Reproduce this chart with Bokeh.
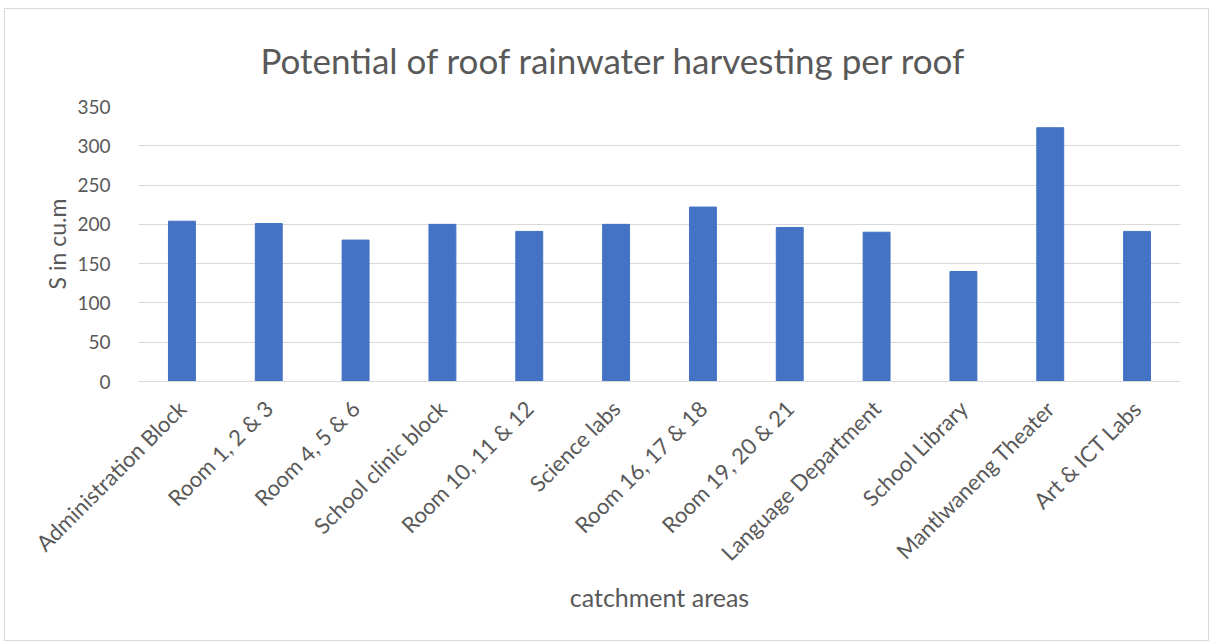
import math
from bokeh.plotting import figure
from bokeh.models import ColumnDataSource, FactorRange
from bokeh.embed import file_html
from bokeh.resources import INLINE

categories = ["Administration Block", "Room 1, 2 & 3", "Room 4, 5 & 6", "School clinic block",
              "Room 10, 11 & 12", "Science labs", "Room 16, 17 & 18", "Room 19, 20 & 21",
              "Language Department", "School Library", "Mantlwaneng Theater", "Art & ICT Labs"]
values = [204, 201, 180, 200, 191, 200, 222, 196, 190, 140, 323, 191]
y_ticks = [0, 50, 100, 150, 200, 250, 300, 350]
title_text = "Potential of roof rainwater harvesting per roof"

FONT = "Lato"
GREY = "#595959"

src = ColumnDataSource(dict(cat=categories, val=values))

p = figure(x_range=FactorRange(*categories), y_range=(0, 350),
           width=1205, height=633, output_backend="svg", toolbar_location=None,
           title=title_text)
p.margin = (8, 0, 0, 4)
p.styles = {"border": "1px solid #D9D9D9", "box-sizing": "border-box"}
p.min_border_left = 133
p.min_border_right = 30
p.min_border_top = 97
p.min_border_bottom = 261
p.outline_line_color = None

p.vbar(x="cat", top="val", width=0.31, source=src, color="#4472C4", line_color="#4472C4")

p.title.text_font = FONT
p.title.text_font_size = "35px"
p.title.text_font_style = "normal"
p.title.text_color = GREY
p.title.align = "left"
p.title.offset = 122
p.title.standoff = 51

p.yaxis.ticker = y_ticks
p.yaxis.axis_line_color = None
p.yaxis.major_tick_line_color = None
p.yaxis.minor_tick_line_color = None
p.yaxis.major_label_text_font = FONT
p.yaxis.major_label_text_font_size = "19px"
p.yaxis.major_label_text_color = GREY
p.yaxis.major_label_standoff = 22
p.yaxis.axis_label = "S in cu.m"
p.yaxis.axis_label_text_font = FONT
p.yaxis.axis_label_text_font_size = "23px"
p.yaxis.axis_label_text_font_style = "normal"
p.yaxis.axis_label_text_color = GREY
p.yaxis.axis_label_standoff = 3

p.xaxis.axis_line_color = "#D9D9D9"
p.xaxis.axis_line_width = 1
p.xaxis.major_tick_line_color = None
p.xaxis.minor_tick_line_color = None
p.xaxis.major_label_orientation = math.pi / 4
p.xaxis.major_label_text_font = FONT
p.xaxis.major_label_text_font_size = "22px"
p.xaxis.major_label_text_color = GREY
p.xaxis.major_label_standoff = 17
p.xaxis.axis_label = "catchment areas"
p.xaxis.axis_label_text_font = FONT
p.xaxis.axis_label_text_font_size = "25px"
p.xaxis.axis_label_text_font_style = "normal"
p.xaxis.axis_label_text_color = GREY
p.xaxis.axis_label_standoff = 4

p.xgrid.grid_line_color = None
p.ygrid.grid_line_color = "#D9D9D9"
p.ygrid.grid_line_width = 1

open("out.html", "w").write(file_html(p, INLINE))
